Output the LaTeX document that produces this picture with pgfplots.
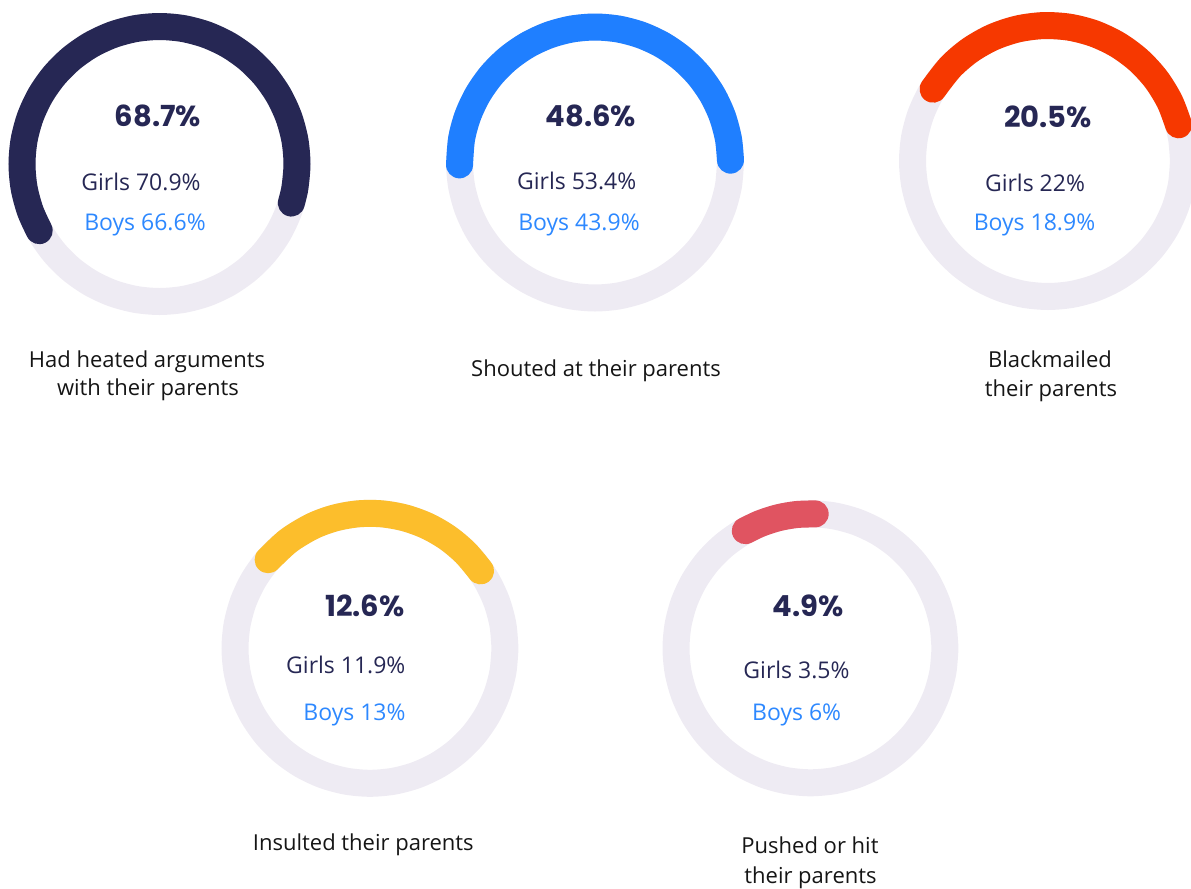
\documentclass[border=0pt]{standalone}
\usepackage{pgfplots}
\pgfplotsset{compat=1.18}
\usepackage{pgfplotstable}
\usepgfplotslibrary{polar}
\usepackage{fontspec}
\setmainfont{Open Sans}
\newfontfamily\numfont{Poppins}

\definecolor{navy}{HTML}{262754}
\definecolor{blueA}{HTML}{1F7FFF}
\definecolor{redA}{HTML}{F63800}
\definecolor{yellowA}{HTML}{FCBE2C}
\definecolor{pinkA}{HTML}{E05461}
\definecolor{ringgray}{HTML}{EEEBF3}
\definecolor{boysblue}{HTML}{2D88FF}
\definecolor{labelblack}{HTML}{151515}

% background ring (angle in degrees, radius)
\pgfplotstableread[row sep=\\]{a r\\0 1\\10 1\\20 1\\30 1\\40 1\\50 1\\60 1\\70 1\\80 1\\90 1\\100 1\\110 1\\120 1\\130 1\\140 1\\150 1\\160 1\\170 1\\180 1\\190 1\\200 1\\210 1\\220 1\\230 1\\240 1\\250 1\\260 1\\270 1\\280 1\\290 1\\300 1\\310 1\\320 1\\330 1\\340 1\\350 1\\360 1\\}\ringdata
% 68.7% arc
\pgfplotstableread[row sep=\\]{a r\\-16.5 1\\-10 1\\0 1\\10 1\\20 1\\30 1\\40 1\\50 1\\60 1\\70 1\\80 1\\90 1\\100 1\\110 1\\120 1\\130 1\\140 1\\150 1\\160 1\\170 1\\180 1\\190 1\\200 1\\209 1\\}\arcA
% 48.6% arc
\pgfplotstableread[row sep=\\]{a r\\1 1\\10 1\\20 1\\30 1\\40 1\\50 1\\60 1\\70 1\\80 1\\90 1\\100 1\\110 1\\120 1\\130 1\\140 1\\150 1\\160 1\\170 1\\181 1\\}\arcB
% 20.5% arc
\pgfplotstableread[row sep=\\]{a r\\15.5 1\\26 1\\37 1\\48 1\\59 1\\70 1\\81 1\\92 1\\103 1\\114 1\\125 1\\136 1\\148 1\\}\arcC
% 12.6% arc
\pgfplotstableread[row sep=\\]{a r\\35 1\\45 1\\55 1\\65 1\\75 1\\85 1\\95 1\\105 1\\115 1\\127 1\\139 1\\}\arcD
% 4.9% arc
\pgfplotstableread[row sep=\\]{a r\\88 1\\96 1\\104 1\\112 1\\119 1\\}\arcE

\pgfplotsset{
  gauge/.style={hide axis, scale only axis, width=#1, height=#1,
    xmin=0, xmax=360, ymin=0, ymax=1, clip=false, anchor=origin},
  ring/.style={color=ringgray, line width=13.5pt, line cap=round, smooth, no marks},
  garc/.style={color=#1, line width=13.5pt, line cap=round, smooth, no marks},
}

\begin{document}
\begin{tikzpicture}[x=0.5pt,y=-0.5pt]
\path[use as bounding box] (0,0) rectangle (1191,889);

\begin{polaraxis}[gauge=137.5pt, at={(79.75pt,-82pt)}]
\addplot[ring] table[x=a,y=r]{\ringdata};
\addplot[garc=navy] table[x=a,y=r]{\arcA};
\end{polaraxis}

\begin{polaraxis}[gauge=135.5pt, at={(297.5pt,-81.25pt)}]
\addplot[ring] table[x=a,y=r]{\ringdata};
\addplot[garc=blueA] table[x=a,y=r]{\arcB};
\end{polaraxis}

\begin{polaraxis}[gauge=135.5pt, at={(524pt,-80.5pt)}]
\addplot[ring] table[x=a,y=r]{\ringdata};
\addplot[garc=redA] table[x=a,y=r]{\arcC};
\end{polaraxis}

\begin{polaraxis}[gauge=135pt, at={(185pt,-324.15pt)}]
\addplot[ring] table[x=a,y=r]{\ringdata};
\addplot[garc=yellowA] table[x=a,y=r]{\arcD};
\end{polaraxis}

\begin{polaraxis}[gauge=134.5pt, at={(405.25pt,-324.15pt)}]
\addplot[ring] table[x=a,y=r]{\ringdata};
\addplot[garc=pinkA] table[x=a,y=r]{\arcE};
\end{polaraxis}

% big values
\tikzset{big/.style={anchor=base, inner sep=0pt, text=navy, font=\numfont\bfseries\fontsize{14.5}{17}\selectfont},
  girls/.style={anchor=base, inner sep=0pt, text=navy, font=\fontsize{11.5}{14}\selectfont},
  boys/.style={anchor=base, inner sep=0pt, text=boysblue, font=\fontsize{11.5}{14}\selectfont},
  lab/.style={anchor=base, inner sep=0pt, text=labelblack, font=\fontsize{11}{14}\selectfont}}

\node[big] at (158,126.7) {68.7\%};
\node[girls] at (141,190) {Girls 70.9\%};
\node[boys] at (145,230) {Boys 66.6\%};

\node[big] at (591,126.7) {48.6\%};
\node[girls] at (576.7,189.3) {Girls 53.4\%};
\node[boys] at (579,230) {Boys 43.9\%};

\node[big] at (1048,127.3) {20.5\%};
\node[girls] at (1035,191.7) {Girls 22\%};
\node[boys] at (1034.5,230.7) {Boys 18.9\%};

\node[big] at (365,616) {12.6\%};
\node[girls] at (345.8,673.3) {Girls 11.9\%};
\node[boys] at (354.5,720) {Boys 13\%};

\node[big] at (808,616) {4.9\%};
\node[girls] at (796.5,678.3) {Girls 3.5\%};
\node[boys] at (796.7,720) {Boys 6\%};

% category labels
\node[lab] at (147,367.3) {Had heated arguments};
\node[lab] at (148,395) {with their parents};
\node[lab] at (596,376.7) {Shouted at their parents};
\node[lab] at (1050,367) {Blackmailed};
\node[lab] at (1051,396.7) {their parents};
\node[lab] at (363.3,850) {Insulted their parents};
\node[lab] at (810,853.3) {Pushed or hit};
\node[lab] at (810.5,883.3) {their parents};
\end{tikzpicture}
\end{document}
